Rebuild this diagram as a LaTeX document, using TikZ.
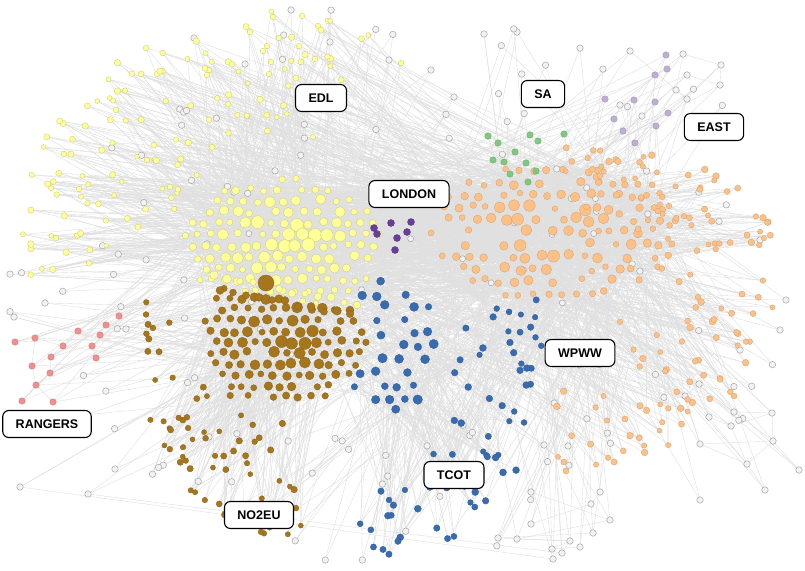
\documentclass[tikz,border=0pt]{standalone}
\usepackage{fontspec}
\setmainfont{Liberation Sans}
\definecolor{cY}{HTML}{FFFF99}
\definecolor{cB}{HTML}{A6761D}
\definecolor{cT}{HTML}{386CB0}
\definecolor{cO}{HTML}{FDC086}
\definecolor{cG}{HTML}{7FC97F}
\definecolor{cP}{HTML}{BEAED4}
\definecolor{cL}{HTML}{6A3D9A}
\definecolor{cR}{HTML}{F28E8E}
\definecolor{cW}{HTML}{F2F2F2}
\newcounter{nY}\newcounter{nB}\newcounter{nT}\newcounter{nO}\newcounter{nW}
\newcounter{nG}\newcounter{nP}\newcounter{nL}\newcounter{nR}
\tikzset{
  nd/.style={circle,inner sep=0pt,line width=0.35pt},
  yn/.style={nd,fill=cY,draw=cY!80!black},
  bn/.style={nd,fill=cB,draw=cB!85!black},
  tn/.style={nd,fill=cT,draw=cT!85!black},
  on/.style={nd,fill=cO,draw=cO!85!black},
  gn/.style={nd,fill=cG,draw=cG!85!black},
  pn/.style={nd,fill=cP,draw=cP!85!black},
  ln/.style={nd,fill=cL,draw=cL!85!black},
  rn/.style={nd,fill=cR,draw=cR!85!black},
  wn/.style={nd,fill=cW,draw=black!35,line width=0.5pt},
  edge/.style={line width=0.4pt,draw=black!12},
  lab/.style={draw=black,fill=white,rounded corners=6pt,line width=1.1pt,
    font=\bfseries\fontsize{12.5}{13}\selectfont,inner xsep=13pt,
    minimum height=27pt,text height=9pt,text depth=0pt}
}
% define a point of a cluster: letter, x, y, size
\newcommand\mkpt[4]{%
  \stepcounter{n#1}\edef\nm{#1-\arabic{n#1}}%
  \coordinate (\nm) at (#2,#3);%
  \expandafter\xdef\csname sz\nm\endcsname{#4}}
\newcommand\rndEdge[3]{%
  \pgfmathrandominteger{\myrb}{1}{#3}%
  \draw[edge] (#1) -- (#2-\myrb);}
\newcommand\batch[5]{%
  \foreach \kk in {1,...,#1}{%
    \pgfmathrandominteger{\ea}{1}{#3}%
    \pgfmathrandominteger{\eb}{1}{#5}%
    \ifnum\ea=\eb\else\draw[edge] (#2-\ea) -- (#4-\eb);\fi}}
\newcommand\drawset[2]{%
  \edef\tot{\arabic{n#1}}%
  \foreach \i in {1,...,\tot}{%
    \edef\szz{\csname sz#1-\i\endcsname}%
    \node[#2,minimum size=\szz pt] (n#1-\i) at (#1-\i) {};}}
\begin{document}
\begin{tikzpicture}[x=1pt,y=-1pt]
\pgfmathsetseed{4242}
\fill[white] (0,0) rectangle (805,570);
\useasboundingbox (0,0) rectangle (805,570);

% ---------- Yellow core (EDL)
\foreach \i in {-8,...,8}{\foreach \j in {-6,...,6}{
  \pgfmathsetmacro\px{283+13*\i+6.5*abs(mod(\j,2))+1.8*rand}
  \pgfmathsetmacro\py{246+11.3*\j+1.8*rand}
  \pgfmathtruncatemacro\ok{((((\px-283)/100)^2+((\py-244)/66)^2)<1) && (\py<289+0.2*(\px-230)) && (rnd<0.94)}
  \ifnum\ok=1
    \pgfmathsetmacro\dd{max(5.5,6+7.5*rnd*(1.1-((\px-283)/100)^2-((\py-238)/62)^2))}
    \mkpt{Y}{\px}{\py}{\dd}
  \fi}}
\foreach \bx in {214,227,...,357}{
  \pgfmathsetmacro\py{279+0.2*(\bx-230)+2*rand}
  \pgfmathsetmacro\dd{6+3*rnd}
  \mkpt{Y}{\bx}{\py}{\dd}}
\edef\coreY{\arabic{nY}}

% ---------- Brown core (NO2EU)
\mkpt{B}{266}{283}{16}
\foreach \i in {-7,...,7}{\foreach \j in {-6,...,6}{
  \pgfmathsetmacro\px{286+12.5*\i+6.25*abs(mod(\j,2))+1.8*rand}
  \pgfmathsetmacro\py{331+11*\j+1.8*rand}
  \pgfmathtruncatemacro\ok{((((\px-286)/82)^2+((\py-333)/72)^2)<1) && (\py>286+0.2*(\px-230)) && (rnd<0.94) && ((((\px-266)/13)^2+((\py-283)/13)^2)>1)}
  \ifnum\ok=1
    \pgfmathsetmacro\dd{max(5.5,6+6*rnd*(1.1-((\px-286)/82)^2-((\py-334)/70)^2))}
    \mkpt{B}{\px}{\py}{\dd}
  \fi}}
\foreach \bx in {220,233,...,350}{
  \pgfmathsetmacro\py{291+0.2*(\bx-230)+2*rand}
  \pgfmathsetmacro\dd{6+3*rnd}
  \pgfmathtruncatemacro\ok{(((\bx-266)/14)^2+((\py-283)/14)^2)>1}
  \ifnum\ok=1 \mkpt{B}{\bx}{\py}{\dd}\fi}
\edef\coreB{\arabic{nB}}

% ---------- Blue core (TCOT)
\foreach \i in {-3,...,3}{\foreach \j in {-5,...,5}{
  \pgfmathsetmacro\px{390+15*\i+7.5*abs(mod(\j,2))+2.5*rand}
  \pgfmathsetmacro\py{346+13*\j+2.5*rand}
  \pgfmathtruncatemacro\ok{((((\px-390)/52)^2+((\py-346)/66)^2)<1) && ((((\px-286)/82)^2+((\py-333)/72)^2)>1.1) && (rnd<0.72)}
  \ifnum\ok=1
    \pgfmathsetmacro\dd{6+3.5*rnd}
    \mkpt{T}{\px}{\py}{\dd}
  \fi}}
\edef\coreT{\arabic{nT}}

% ---------- Orange core (WPWW)
\foreach \i in {-9,...,9}{\foreach \j in {-6,...,6}{
  \pgfmathsetmacro\px{555+14*\i+7*abs(mod(\j,2))+2.5*rand}
  \pgfmathsetmacro\py{232+12.2*\j+2.5*rand}
  \pgfmathtruncatemacro\ok{((((\px-555)/128)^2+((\py-232)/70)^2)<1) && (rnd<0.78)}
  \ifnum\ok=1
    \pgfmathsetmacro\dd{5.5+7*rnd*(1.1-((\px-555)/128)^2-((\py-232)/70)^2)}
    \mkpt{O}{\px}{\py}{\dd}
  \fi}}
\edef\coreO{\arabic{nO}}

% ---------- Yellow periphery
\foreach \px/\py in {273/17,302/16,318/26,250/32,279/38,267/46,299/46,263/51,315/59,271/62,401/63,209/70,157/74,207/75,269/74}{
  \mkpt{Y}{\px}{\py}{5.5}
  \rndEdge{\nm}{Y}{\coreY}\rndEdge{\nm}{Y}{\coreY}}
\foreach \k in {1,...,125}{
  \pgfmathsetmacro\th{165+130*rnd}
  \pgfmathsetmacro\rr{0.3+0.7*sqrt(rnd)}
  \pgfmathsetmacro\px{270+250*\rr*cos(\th)}
  \pgfmathsetmacro\py{max(10,228+218*\rr*sin(\th))}
  \pgfmathsetmacro\dd{4.8+1.8*rnd}
  \mkpt{Y}{\px}{\py}{\dd}
  \rndEdge{\nm}{Y}{\coreY}\rndEdge{\nm}{Y}{\coreY}\rndEdge{\nm}{O}{\coreO}}
\edef\totY{\arabic{nY}}

% ---------- Brown periphery
\foreach \k in {1,...,70}{
  \pgfmathsetmacro\th{80+115*rnd}
  \pgfmathsetmacro\rr{0.4+0.6*sqrt(rnd)}
  \pgfmathsetmacro\px{285+150*\rr*cos(\th)}
  \pgfmathsetmacro\py{338+198*\rr*sin(\th)}
  \pgfmathsetmacro\dd{5+1.5*rnd}
  \mkpt{B}{\px}{\py}{\dd}
  \rndEdge{\nm}{B}{\coreB}\rndEdge{\nm}{B}{\coreB}\rndEdge{\nm}{Y}{\coreY}}
\edef\totB{\arabic{nB}}

% ---------- Blue periphery
\foreach \k in {1,...,72}{
  \pgfmathsetmacro\th{-15+120*rnd}
  \pgfmathsetmacro\rr{0.35+0.65*sqrt(rnd)}
  \pgfmathsetmacro\px{392+155*\rr*cos(\th)}
  \pgfmathsetmacro\py{345+210*\rr*sin(\th)}
  \pgfmathsetmacro\dd{5.5+1.5*rnd}
  \mkpt{T}{\px}{\py}{\dd}
  \rndEdge{\nm}{T}{\coreT}\rndEdge{\nm}{T}{\coreT}\rndEdge{\nm}{O}{\coreO}}
\edef\totT{\arabic{nT}}

% ---------- Orange periphery
\foreach \k in {1,...,145}{
  \pgfmathsetmacro\th{-95+195*rnd}
  \pgfmathsetmacro\rr{0.35+0.65*sqrt(rnd)}
  \pgfmathsetmacro\px{min(785,575+205*\rr*cos(\th))}
  \pgfmathsetmacro\py{250+(sin(\th)>0 ? 220 : 105)*\rr*sin(\th)}
  \pgfmathsetmacro\dd{5+1.8*rnd}
  \mkpt{O}{\px}{\py}{\dd}
  \rndEdge{\nm}{O}{\coreO}\rndEdge{\nm}{O}{\coreO}\rndEdge{\nm}{Y}{\coreY}}
\foreach \px/\py in {564/462,566/471,734/396}{
  \mkpt{O}{\px}{\py}{6}
  \rndEdge{\nm}{O}{\coreO}\rndEdge{\nm}{O}{\coreO}}
\edef\totO{\arabic{nO}}

% ---------- SA (green)
\foreach \px/\py in {488/136,530/135,564/134,498/143,538/141,515/152,493/160,504/162,526/163,536/171,510/174,528/182}{
  \mkpt{G}{\px}{\py}{6.5}
  \rndEdge{\nm}{O}{\coreO}\rndEdge{\nm}{O}{\coreO}\rndEdge{\nm}{Y}{\coreY}}

% ---------- EAST (light purple)
\foreach \px/\py in {666/55,655/75,667/69,605/99,634/100,655/102,668/113,614/119,623/131,656/126,635/143}{
  \mkpt{P}{\px}{\py}{6.5}
  \rndEdge{\nm}{O}{\coreO}\rndEdge{\nm}{O}{\coreO}\rndEdge{\nm}{Y}{\coreY}}

% ---------- LONDON (dark purple)
\foreach \px/\py in {391/223,411/222,374/228,377/234,397/238,407/232,395/250}{
  \mkpt{L}{\px}{\py}{7}
  \rndEdge{\nm}{Y}{\coreY}\rndEdge{\nm}{Y}{\coreY}\rndEdge{\nm}{O}{\coreO}\rndEdge{\nm}{O}{\coreO}}

% ---------- RANGERS (pink)
\foreach \px/\py in {15/342,35/338,78/331,106/325,119/316,100/335,63/346,92/346,51/357,96/358,32/366,50/373,36/385,22/401,53/402}{
  \mkpt{R}{\px}{\py}{6.5}
  \rndEdge{\nm}{Y}{\coreY}\rndEdge{\nm}{B}{\coreB}\rndEdge{\nm}{Y}{\coreY}}
\foreach \a/\b in {1/2,2/11,11/13,13/14,13/15,2/7,5/4,4/6,9/12,9/3,8/10,12/13}{
  \draw[edge] (R-\a) -- (R-\b);}

% ---------- White (unassigned) nodes
\foreach \px/\py in {699/384,685/396,734/412,772/413,709/417,731/426,773/441,700/444,747/464,799/470,765/490,
  630/51,683/54,721/65,687/75,720/85,676/90,687/99,620/105,642/116,14/317,45/303,126/329,
  291/10,194/38,330/42,245/64,389/60,431/70,484/34,517/32,454/97,580/48,
  544/445,568/446,531/492,600/492,591/504,610/520,531/524,593/533,498/538,517/539,570/541,580/547,552/549,562/553,553/559,
  20/487,88/494,115/469,700/500,740/350,780/330,786/300,760/240}{
  \mkpt{W}{\px}{\py}{6.5}
  \pgfmathtruncatemacro\tsel{\px<250 ? (\py<300 ? 1 : 2) : (\px>470 ? 4 : (\py>320 ? 3 : 1))}
  \ifcase\tsel\or\def\tl{Y}\or\def\tl{B}\or\def\tl{T}\or\def\tl{O}\fi
  \rndEdge{\nm}{\tl}{\csname core\tl\endcsname}\rndEdge{\nm}{\tl}{\csname core\tl\endcsname}}
\foreach \a/\b in {1/2,1/5,5/6,6/4,4/7,7/8,8/9,9/7,6/9,2/8,3/4,3/6,9/11,7/10,
  13/14,14/16,16/15,13/17,17/18,18/12,15/19,
  37/38,38/41,38/40,41/42,42/44,43/44,44/46,44/47,45/46,47/50,48/49,36/39,39/43}{
  \draw[edge] (W-\a) -- (W-\b);}
\foreach \k in {1,...,105}{
  \pgfmathsetmacro\th{360*rnd}
  \pgfmathsetmacro\rr{0.5+0.5*rnd}
  \pgfmathsetmacro\px{min(795,max(10,405+410*\rr*cos(\th)))}
  \pgfmathsetmacro\py{min(560,max(8,285+285*\rr*sin(\th)))}
  \mkpt{W}{\px}{\py}{6.5}
  \pgfmathtruncatemacro\tsel{\px<250 ? (\py<300 ? 1 : 2) : (\px>470 ? 4 : (\py>320 ? 3 : 1))}
  \ifcase\tsel\or\def\tl{Y}\or\def\tl{B}\or\def\tl{T}\or\def\tl{O}\fi
  \rndEdge{\nm}{\tl}{\csname core\tl\endcsname}\rndEdge{\nm}{\tl}{\csname core\tl\endcsname}}
\foreach \k in {1,...,16}{
  \pgfmathsetmacro\px{200+400*rnd}
  \pgfmathsetmacro\py{190+180*rnd}
  \mkpt{W}{\px}{\py}{6}
  \rndEdge{\nm}{Y}{\coreY}\rndEdge{\nm}{O}{\coreO}}

% ---------- inter-cluster edges
\batch{300}{Y}{\totY}{O}{\coreO}
\batch{120}{O}{\totO}{Y}{\coreY}
\batch{150}{Y}{\coreY}{Y}{\coreY}
\batch{130}{B}{\totB}{Y}{\coreY}
\batch{120}{B}{\coreB}{B}{\coreB}
\batch{70}{B}{\totB}{O}{\coreO}
\batch{80}{T}{\totT}{O}{\coreO}
\batch{50}{T}{\totT}{Y}{\coreY}
\batch{60}{T}{\coreT}{B}{\coreB}
\batch{150}{O}{\coreO}{O}{\coreO}

% ---------- nodes on top of the edges
\drawset{W}{wn}
\drawset{Y}{yn}
\drawset{B}{bn}
\drawset{T}{tn}
\drawset{O}{on}
\drawset{G}{gn}
\drawset{P}{pn}
\drawset{L}{ln}
\drawset{R}{rn}

% ---------- labels
\node[lab] (lEDL) at (321,98) {EDL};
\node[lab] (lSA) at (543,94) {SA};
\node[lab] (lEAST) at (714,127) {EAST};
\node[lab] (lLON) at (409,194) {LONDON};
\node[lab] (lWPWW) at (580,353) {WPWW};
\node[lab] (lRAN) at (47,424) {RANGERS};
\node[lab] (lTCOT) at (454,475) {TCOT};
\node[lab] (lNO) at (259,515) {NO2EU};
\end{tikzpicture}
\end{document}
